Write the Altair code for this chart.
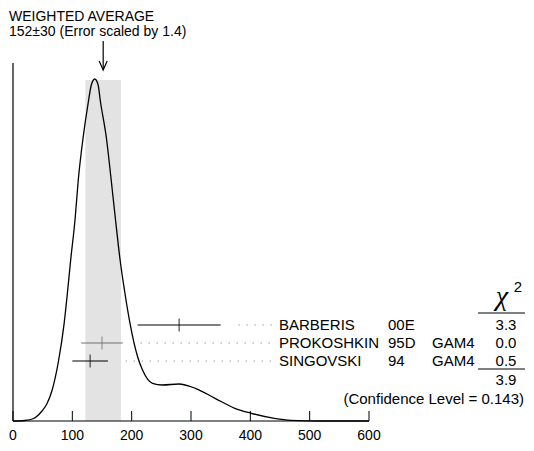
import altair as alt
import pandas as pd

# ---- data ----
names = ["BARBERIS", "PROKOSHKIN", "SINGOVSKI"]
codes = ["00E", "95D", "94"]
techs = ["", "GAM4", "GAM4"]
values = [280, 150, 130]
errors = [70, 35, 30]
chi2 = ["3.3", "0.0", "0.5"]
bar_colors = ["black", "#707070", "black"]

avg_value = 152
avg_error = 30
chi2_total = "3.9"
conf_level = "0.143"

# ideogram curve (x value, relative height)
curve_x = [0, 20, 35, 48.8, 57, 65.5, 76.7, 86.2, 92.2, 97.2, 104.5, 110, 118.3, 126.7,
           132, 137.8, 143.5, 147.2, 157.2, 165.5, 172.8, 180.5, 187.8, 197.2, 210, 218.3,
           235, 251.7, 279.5, 307.2, 340.5, 373.8, 401.7, 440.5, 468.3, 520, 600]
curve_y = [0, 0.5, 2.5, 10, 17, 30, 60, 97.7, 131, 161, 201, 241, 284, 318,
           336, 342, 336, 320, 284, 241, 201, 161, 131, 97.7, 64.3, 51,
           37.7, 36, 37, 32.7, 22.7, 12.7, 7.7, 2.7, 0.7, 0, 0]

tick_values = [0, 100, 200, 300, 400, 500, 600]

# ---- layout helpers ----
FONT = "Liberation Sans"
FS = 15
W, H = 518, 413
K = 356 / 600            # px per data unit
X0 = -5 / K              # so that x=0 sits 5 px inside the plot area
XDOM = [X0, X0 + W / K]
YDOM = [0, 413]

def px(p):               # page pixel (x) -> data unit
    return (p - 13) / K

xs = alt.Scale(domain=XDOM, nice=False, zero=False)
ys = alt.Scale(domain=YDOM, nice=False, zero=False)

def X(field, **kw):
    return alt.X(field, type="quantitative", scale=xs, axis=None, **kw)

def Y(field, **kw):
    return alt.Y(field, type="quantitative", scale=ys, axis=None, **kw)

row_h = [96 - 18 * i for i in range(len(names))]
meas = pd.DataFrame({
    "name": names, "code": codes, "tech": techs, "v": values, "e": errors,
    "chi2": chi2, "color": bar_colors, "h": row_h,
})
meas["lo"] = meas["v"] - meas["e"]
meas["hi"] = meas["v"] + meas["e"]
meas["dot0"] = meas["hi"] + 30
meas["dot1"] = px(274)
meas["xname"] = px(279)
meas["xcode"] = px(388)
meas["xtech"] = px(432)
meas["xchi"] = px(506)

curve = pd.DataFrame({"x": curve_x, "y": curve_y})

band = alt.Chart(pd.DataFrame({"a": [avg_value - avg_error], "b": [avg_value + avg_error],
                               "y0": [0], "y1": [341]})).mark_rect(color="#e3e3e3").encode(
    x=X("a"), x2="b", y=Y("y0"), y2="y1")

# axis: bottom line with inward ticks, tick labels, left line
axis_df = pd.DataFrame({"t": tick_values, "y0": 0, "y1": 10, "yl": -14.5})
ticks = alt.Chart(axis_df).mark_rule(color="black", strokeWidth=1).encode(
    x=X("t"), y=Y("y0"), y2="y1")
tick_labels = alt.Chart(axis_df).mark_text(
    font=FONT, fontSize=14, color="black", align="center", baseline="middle").encode(
    x=X("t"), y=Y("yl"), text=alt.Text("t:Q"))
baseline = alt.Chart(pd.DataFrame({"a": [0], "b": [600], "y": [0]})).mark_rule(
    color="black", strokeWidth=1.2).encode(x=X("a"), x2="b", y=Y("y"))
leftline = alt.Chart(pd.DataFrame({"a": [0], "y0": [0], "y1": [358]})).mark_rule(
    color="black", strokeWidth=1.2).encode(x=X("a"), y=Y("y0"), y2="y1")

line = alt.Chart(curve).mark_line(color="black", strokeWidth=1.3, interpolate="monotone").encode(
    x=X("x"), y=Y("y"))

# error bars
bars = alt.Chart(meas).mark_rule(strokeWidth=1.2).encode(
    x=X("lo"), x2="hi", y=Y("h"), color=alt.Color("color:N", scale=None))
centers = alt.Chart(meas).mark_tick(orient="vertical", size=13, thickness=1.2).encode(
    x=X("v"), y=Y("h"), color=alt.Color("color:N", scale=None))
dots = alt.Chart(meas).mark_rule(color="#888888", strokeWidth=1.2, strokeDash=[1.2, 6.8]).encode(
    x=X("dot0"), x2="dot1", y=Y("h"))

txt = dict(font=FONT, fontSize=FS, color="black", baseline="middle")
t_name = alt.Chart(meas).mark_text(align="left", **txt).encode(x=X("xname"), y=Y("h"), text="name:N")
t_code = alt.Chart(meas).mark_text(align="left", **txt).encode(x=X("xcode"), y=Y("h"), text="code:N")
t_tech = alt.Chart(meas).mark_text(align="left", **txt).encode(x=X("xtech"), y=Y("h"), text="tech:N")
t_chi = alt.Chart(meas).mark_text(align="center", **txt).encode(x=X("xchi"), y=Y("h"), text="chi2:N")

# chi^2 header, separator lines, total
chi_head = alt.Chart(pd.DataFrame({"x": [px(502)], "y": [124], "t": ["χ"]})).mark_text(
    font="Liberation Serif", fontSize=28, fontStyle="italic", align="center",
    baseline="middle", color="black").encode(x=X("x"), y=Y("y"), text="t:N")
chi_sup = alt.Chart(pd.DataFrame({"x": [px(518)], "y": [134], "t": ["2"]})).mark_text(
    font=FONT, fontSize=15, align="center", baseline="middle", color="black").encode(
    x=X("x"), y=Y("y"), text="t:N")
seps = alt.Chart(pd.DataFrame({"a": [px(478)] * 2, "b": [px(525)] * 2, "y": [108, 52]})).mark_rule(
    color="black", strokeWidth=1).encode(x=X("a"), x2="b", y=Y("y"))
total = alt.Chart(pd.DataFrame({"x": [px(506)], "y": [41], "t": [chi2_total]})).mark_text(
    align="center", **txt).encode(x=X("x"), y=Y("y"), text="t:N")
conf = alt.Chart(pd.DataFrame({"x": [px(524)], "y": [22],
                               "t": [f"(Confidence Level = {conf_level})"]})).mark_text(
    align="right", **txt).encode(x=X("x"), y=Y("y"), text="t:N")

# title and arrow
title_df = pd.DataFrame({"x": [px(9), px(9)], "y": [404.5, 389.5],
                         "t": ["WEIGHTED AVERAGE",
                               f"{avg_value}±{avg_error} (Error scaled by 1.4)"]})
title = alt.Chart(title_df).mark_text(align="left", font=FONT, fontSize=14, color="black",
                                      baseline="middle").encode(x=X("x"), y=Y("y"), text="t:N")
arrow_shaft = alt.Chart(pd.DataFrame({"x": [avg_value], "y0": [351], "y1": [380]})).mark_rule(
    color="black", strokeWidth=1.2).encode(x=X("x"), y=Y("y0"), y2="y1")
arrow_head = alt.Chart(pd.DataFrame({"x": [avg_value], "y": [351]})).mark_point(
    shape="M-0.8,-1.8L0,0L0.8,-1.8", filled=False, size=100, color="black", strokeWidth=1.2,
    opacity=1).encode(x=X("x"), y=Y("y"))

chart = alt.layer(
    band, ticks, tick_labels, baseline, leftline, line, dots, bars, centers,
    t_name, t_code, t_tech, t_chi, chi_head, chi_sup, seps, total, conf,
    title, arrow_shaft, arrow_head,
).properties(
    width=W, height=H,
    autosize=alt.AutoSizeParams(type="none"),
    padding={"left": 0, "top": 0, "right": 0, "bottom": 22},
    background="white",
).configure_view(stroke=None)

chart.save("out.html", embed_options={"renderer": "svg", "actions": False})
